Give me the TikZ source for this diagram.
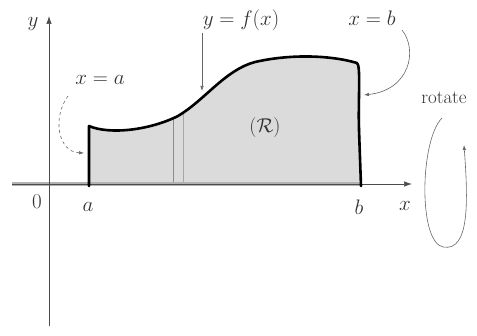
\documentclass[tikz,border=0pt]{standalone}
\usepackage{fix-cm}
\usetikzlibrary{arrows.meta}
\begin{document}
\begin{tikzpicture}[x=1pt,y=-1pt,
  lbl/.style={font=\fontsize{21}{24}\selectfont, text=black!80, inner sep=1pt},
  axis/.style={black!70, line width=0.7pt, -{Latex[length=8pt,width=5.5pt]}},
  callout/.style={black!60, line width=0.6pt, -{Latex[length=5pt,width=3.5pt]}},
  bound/.style={line width=2.6pt, black, line join=round, line cap=round}]
\useasboundingbox (0,0) rectangle (477,336);
% region fill
\fill[black!14] (89,184) -- (89,126) .. controls (110,135) and (150,130) .. (178,116)
  .. controls (205,100) and (225,70) .. (255,62) .. controls (290,54) and (330,55) .. (357,63)
  -- (360,67) -- (361,184) -- cycle;
% slice lines
\draw[black!45, line width=0.5pt] (173,118) -- (173,186);
\draw[black!35, line width=0.4pt] (183,112) -- (183,186);
% x axis band
\draw[black!30, line width=4pt] (12,184) -- (362,184);
% axes
\coordinate (yb) at (49,326);
\coordinate (yt) at (49,16);
\coordinate (xl) at (12,184);
\coordinate (xr) at (412,184);
\draw[axis] (yb) -- (yt);
\draw[axis] (xl) -- (xr);
% boundary
\coordinate (A0) at (89,186);
\coordinate (A1) at (89,126);
\coordinate (B1) at (357,63);
\coordinate (B0) at (361,186);
\draw[bound] (A0) -- (A1) .. controls (110,135) and (150,130) .. (178,116)
  .. controls (205,100) and (225,70) .. (255,62) .. controls (290,54) and (330,55) .. (B1)
  .. controls (361,66) and (358,100) .. (359,130) -- (B0);
% labels
\node[lbl] (ylab) at (33,24) {$y$};
\node[lbl] (xlab) at (405,206) {$x$};
\node[lbl] (zero) at (37,202) {$0$};
\node[lbl] (alab) at (88,207) {$a$};
\node[lbl] (blab) at (359,207) {$b$};
\node[lbl, font=\fontsize{20}{23}\selectfont] (reg) at (265,128) {$(\mathcal{R})$};
\node[lbl] (fx) at (241,20) {$y = f(x)$};
\node[lbl] (xa) at (100,80) {$x = a$};
\node[lbl] (xb) at (372,18) {$x = b$};
\node[lbl, font=\fontsize{19}{22}\selectfont] (rot) at (444,98) {rotate};
% callouts
\coordinate (fxs) at (202,33);
\coordinate (fxe) at (202,91);
\draw[callout] (fxs) -- (fxe);
\coordinate (xas) at (68,96);
\coordinate (xae) at (84,153);
\draw[callout, dashed] (xas) .. controls (52,118) and (58,152) .. (xae);
\coordinate (xbs) at (402,30);
\coordinate (xbe) at (364,95);
\draw[callout] (xbs) .. controls (418,50) and (410,90) .. (xbe);
% rotate loop
\coordinate (r0) at (442,118);
\coordinate (r1) at (443,247);
\coordinate (r2) at (464,145);
\draw[callout] (r0) .. controls (420,140) and (418,242) .. (r1)
  .. controls (470,252) and (468,200) .. (r2);
\end{tikzpicture}
\end{document}
